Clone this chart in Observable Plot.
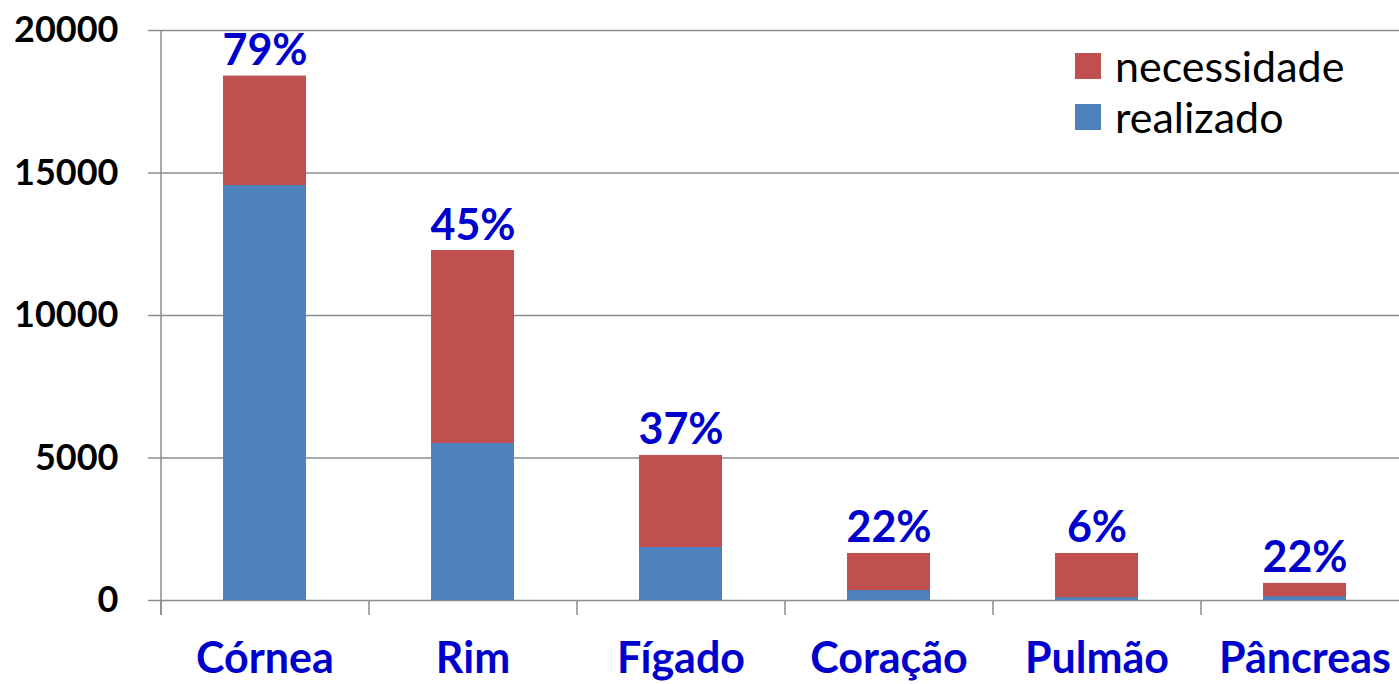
<!DOCTYPE html>
<html>
<head>
<meta charset="utf-8">
<script src="https://cdn.jsdelivr.net/npm/d3@7"></script>
<script src="https://cdn.jsdelivr.net/npm/@observablehq/plot@0.6"></script>
<style>
  html, body { margin: 0; padding: 0; background: #fff; }
  #wrap { position: relative; width: 1399px; height: 684px; overflow: hidden; font-family: Lato, "Open Sans", sans-serif; }
  #legend { position: absolute; left: 1075px; top: 40px; font-size: 43px; color: #000; }
  #legend .row { display: flex; align-items: center; height: 51px; }
  #legend .sw { width: 26px; height: 26px; margin-right: 14px; }
</style>
</head>
<body>
<div id="wrap"></div>
<script>
const organs = ["Córnea", "Rim", "Fígado", "Coração", "Pulmão", "Pâncreas"];
const necessidade = [18400, 12280, 5090, 1650, 1650, 600];
const realizado = [14560, 5510, 1860, 350, 100, 130];
const percentLabels = ["79%", "45%", "37%", "22%", "6%", "22%"];
const yTicks = [0, 5000, 10000, 15000, 20000];
const seriesNames = ["necessidade", "realizado"];
const seriesColors = ["#C0504D", "#4F81BD"];

const rows = organs.map((o, i) => ({organ: o, need: necessidade[i], done: realizado[i], pct: percentLabels[i]}));

const step = 208;
const chart = Plot.plot({
  width: 1399,
  height: 684,
  marginTop: 30,
  marginBottom: 84,
  marginLeft: 148,
  marginRight: 0,
  style: {fontFamily: "Lato, 'Open Sans', sans-serif", background: "#fff"},
  x: {domain: organs, range: [161, 161 + step * organs.length], paddingInner: 0.6, paddingOuter: 0.3, label: null},
  y: {domain: [0, 20000], label: null},
  marks: [
    Plot.ruleY(yTicks, {stroke: "#8c8c8c", strokeWidth: 1.5}),
    Plot.barY(rows, {x: "organ", y: "need", fill: seriesColors[0]}),
    Plot.barY(rows, {x: "organ", y: "done", fill: seriesColors[1]}),
    // category separators below the baseline
    Plot.ruleX(organs, {x: d => d, dx: -step / 2, y1: 0, y2: -530, stroke: "#8c8c8c", strokeWidth: 1.5}),
    // vertical axis line
    Plot.ruleX([organs[0]], {x: d => d, dx: -step / 2, y1: -530, y2: 20000, stroke: "#8c8c8c", strokeWidth: 1.5}),
    Plot.text(rows, {x: "organ", y: "need", text: "pct", lineAnchor: "bottom", dy: -11,
      fill: "#0000CC", fontWeight: "bold", fontSize: 43}),
    Plot.axisY({ticks: yTicks, tickSize: 0, tickPadding: 30, fontSize: 36, fontWeight: "bold",
      fill: "#000", tickFormat: d => String(d)}),
    Plot.axisX({tickSize: 0, tickPadding: 42, fontSize: 43, fontWeight: "bold", fill: "#0000CC"})
  ]
});
const wrap = document.getElementById("wrap");
wrap.appendChild(chart);

const legend = document.createElement("div");
legend.id = "legend";
seriesNames.forEach((n, i) => {
  const row = document.createElement("div");
  row.className = "row";
  const sw = document.createElement("div");
  sw.className = "sw";
  sw.style.background = seriesColors[i];
  const t = document.createElement("span");
  t.textContent = n;
  row.appendChild(sw);
  row.appendChild(t);
  legend.appendChild(row);
});
wrap.appendChild(legend);
</script>
</body>
</html>
